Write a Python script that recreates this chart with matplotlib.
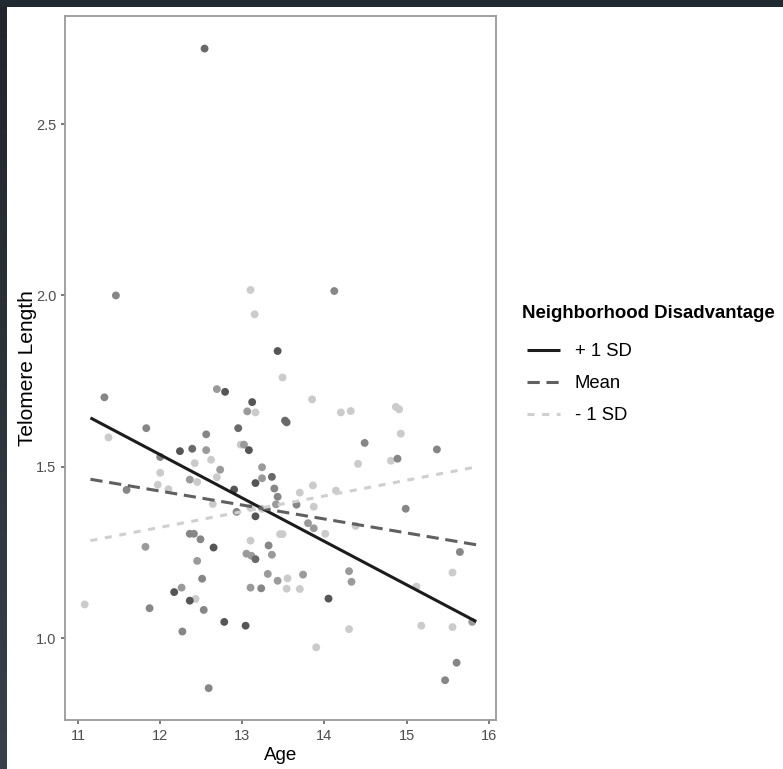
import numpy as np
import matplotlib
matplotlib.use("Agg")
import matplotlib.pyplot as plt
from matplotlib.colors import LinearSegmentedColormap
from matplotlib.lines import Line2D

plt.rcParams['font.family'] = ['Liberation Sans', 'DejaVu Sans']

# Observed points: age, telomere length, neighborhood disadvantage (0 = low, 1 = high)
age = [12.54, 11.46, 13.10, 14.12, 13.15, 13.43, 13.49, 11.32, 11.37, 11.83,
       12.69, 12.79, 13.12, 13.06, 13.16, 13.85, 14.20, 14.32, 14.87, 14.91,
       13.52, 13.54, 12.56, 12.95, 12.98, 13.02, 13.08, 12.24, 12.39, 12.56,
       12.62, 12.42, 12.00, 12.00, 12.73, 13.24, 13.36, 13.24, 14.93, 14.49,
       15.37, 14.41, 14.81, 14.89, 12.69, 12.36, 12.45, 11.97, 12.10, 11.59,
       12.90, 13.16, 13.39, 13.43, 13.41, 12.64, 12.93, 13.10, 13.24, 13.16,
       12.36, 12.41, 12.49, 12.65, 11.82, 11.08, 11.87, 12.45, 12.51, 12.26,
       12.17, 12.43, 12.36, 12.53, 12.78, 13.04, 12.27, 13.10, 13.32, 13.05,
       13.11, 13.16, 13.36, 13.31, 13.43, 13.10, 13.23, 13.46, 13.49, 13.86,
       13.70, 13.66, 13.87, 14.14, 14.99, 13.80, 13.87, 14.01, 14.38, 15.65,
       15.56, 14.30, 14.33, 13.74, 13.55, 13.54, 13.70, 14.05, 15.12, 15.80,
       14.30, 15.18, 15.56, 13.90, 15.61, 15.47, 12.59]
telomere = [2.72, 2.00, 2.016, 2.013, 1.945, 1.838, 1.761, 1.703, 1.586, 1.613,
            1.727, 1.719, 1.689, 1.662, 1.659, 1.697, 1.659, 1.663, 1.675, 1.668,
            1.635, 1.630, 1.595, 1.613, 1.565, 1.565, 1.549, 1.546, 1.553, 1.549,
            1.521, 1.511, 1.529, 1.483, 1.492, 1.499, 1.471, 1.467, 1.597, 1.570,
            1.551, 1.509, 1.518, 1.524, 1.470, 1.463, 1.456, 1.448, 1.435, 1.433,
            1.434, 1.453, 1.437, 1.413, 1.391, 1.392, 1.369, 1.381, 1.378, 1.356,
            1.305, 1.305, 1.289, 1.265, 1.267, 1.099, 1.088, 1.226, 1.174, 1.148,
            1.135, 1.115, 1.110, 1.083, 1.048, 1.037, 1.020, 1.285, 1.271, 1.247,
            1.241, 1.231, 1.244, 1.188, 1.168, 1.148, 1.146, 1.304, 1.304, 1.446,
            1.425, 1.390, 1.384, 1.431, 1.378, 1.336, 1.321, 1.305, 1.328, 1.252,
            1.192, 1.196, 1.165, 1.186, 1.175, 1.145, 1.144, 1.116, 1.151, 1.048,
            1.027, 1.037, 1.033, 0.974, 0.929, 0.878, 0.855]
disadv = [0.75, 0.55, 0.05, 0.55, 0.05, 0.9, 0.05, 0.55, 0.05, 0.55,
          0.4, 0.9, 0.9, 0.4, 0.05, 0.05, 0.05, 0.05, 0.05, 0.05,
          0.75, 0.75, 0.55, 0.75, 0.05, 0.4, 0.9, 0.9, 0.75, 0.4,
          0.05, 0.05, 0.55, 0.05, 0.4, 0.4, 0.75, 0.4, 0.05, 0.55,
          0.55, 0.05, 0.05, 0.55, 0.05, 0.4, 0.05, 0.05, 0.05, 0.55,
          0.9, 0.9, 0.55, 0.55, 0.4, 0.05, 0.55, 0.05, 0.05, 0.9,
          0.55, 0.55, 0.55, 0.9, 0.4, 0.05, 0.55, 0.4, 0.55, 0.4,
          0.9, 0.05, 0.9, 0.55, 0.9, 0.9, 0.55, 0.05, 0.55, 0.4,
          0.4, 0.75, 0.4, 0.4, 0.4, 0.4, 0.55, 0.05, 0.05, 0.05,
          0.05, 0.55, 0.05, 0.05, 0.55, 0.4, 0.4, 0.05, 0.05, 0.55,
          0.05, 0.4, 0.4, 0.4, 0.05, 0.05, 0.05, 0.9, 0.05, 0.4,
          0.05, 0.05, 0.05, 0.05, 0.55, 0.55, 0.55]

# Simple slopes of age at three levels of disadvantage
line_age = [11.15, 15.85]
plus_sd = [1.643, 1.049]
mean_sd = [1.464, 1.273]
minus_sd = [1.285, 1.500]
line_labels = ["+ 1 SD", "Mean", "- 1 SD"]

W, H = 783, 769
fig = plt.figure(figsize=(W / 100, H / 100), dpi=100)
fig.patch.set_facecolor("white")

# dark frame strips along the top and left edges
strip = np.zeros((H, 7, 3))
shade = np.linspace(0.14, 0.24, H)[:, None]
strip[:, :, 0] = shade * 0.92
strip[:, :, 1] = shade * 1.05
strip[:, :, 2] = shade * 1.22
fig.figimage(strip, xo=0, yo=0, origin="upper", zorder=5)
top = np.ones((7, W, 3)) * np.array([0.133, 0.161, 0.196])
fig.figimage(top, xo=0, yo=H - 7, zorder=5)

ax = fig.add_axes([65 / W, 49 / H, 431 / W, 704 / H])

cmap = LinearSegmentedColormap.from_list("nd", ["#d2d2d2", "#474747"])
ax.scatter(age, telomere, c=disadv, cmap=cmap, vmin=0, vmax=1,
           s=32, linewidths=0, zorder=2)

styles = [
    dict(color="#1c1c1c", lw=2.2, solid_capstyle="butt"),
    dict(color="#606060", lw=2.2, dashes=(4.0, 2.2), dash_capstyle="butt"),
    dict(color="#cfcfcf", lw=2.2, dashes=(2.3, 2.5), dash_capstyle="butt"),
]
for ys, st in zip([plus_sd, mean_sd, minus_sd], styles):
    ax.plot(line_age, ys, zorder=3, **st)

ax.set_xlim(10.84, 16.09)
ax.set_ylim(0.762, 2.815)
ax.set_xticks([11, 12, 13, 14, 15, 16])
ax.set_yticks([1.0, 1.5, 2.0, 2.5])
ax.set_yticklabels(["1.0", "1.5", "2.0", "2.5"])

for sp in ax.spines.values():
    sp.set_color("#9a9a9a")
    sp.set_linewidth(1.3)
ax.tick_params(axis="both", colors="#555555", labelcolor="#4d4d4d",
               labelsize=10.5, length=3.2, width=1.1, pad=3)

ax.set_xlabel("Age", fontsize=13.5, labelpad=3)
ax.set_ylabel("Telomere Length", fontsize=15, labelpad=-1)

fig.text(522 / W, 1 - 313 / H, "Neighborhood Disadvantage", fontsize=13.4,
         fontweight="bold", ha="left", va="center")
handles = [Line2D([], [], **st) for st in styles]
leg = fig.legend(handles, line_labels, loc="upper left",
                 bbox_to_anchor=(527 / W, 1 - 343 / H),
                 frameon=False, fontsize=13.3, handlelength=1.78,
                 handletextpad=0.8, labelspacing=0.82, borderaxespad=0,
                 borderpad=0)

fig.savefig("out.png", dpi=100)
